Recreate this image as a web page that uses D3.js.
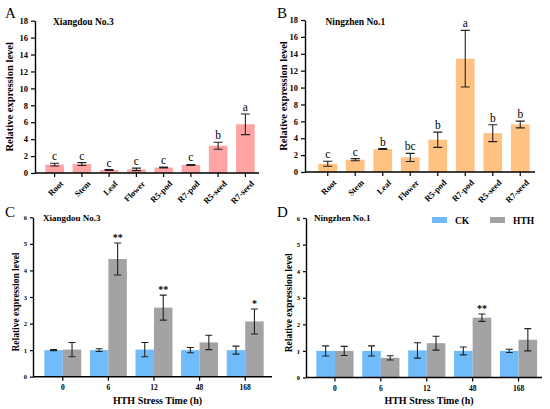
<!DOCTYPE html>
<html>
<head>
<meta charset="utf-8">
<script src="https://cdn.jsdelivr.net/npm/d3@7"></script>
<style>
	body { margin: 0; background: #fff; }
	svg { display: block; font-family: 'Liberation Serif', 'Times New Roman', serif; }
	.domain { stroke-width: 1.4px; }
	.tick line { stroke-width: 1.2px; }
</style>
</head>
<body>
<svg id="chart" width="550" height="409"></svg>
<script>
const SERIF = "'Liberation Serif', 'Times New Roman', serif";

// Tissue expression (panels A, B)
const tissues = ['Root', 'Stem', 'Leaf', 'Flower', 'R5-pod', 'R7-pod', 'R5-seed', 'R7-seed'];
const xdMean = [0.99, 1.06, 0.35, 0.43, 0.64, 0.95, 3.22, 5.76];
const xdErr = [0.17, 0.17, 0.05, 0.15, 0.05, 0.06, 0.42, 1.22];
const xdSig = ['c', 'c', 'c', 'c', 'c', 'c', 'b', 'a'];
const nzMean = [0.98, 1.46, 2.72, 1.73, 3.82, 13.42, 4.6, 5.63];
const nzErr = [0.3, 0.12, 0.06, 0.48, 0.9, 3.35, 1.0, 0.4];
const nzSig = ['c', 'c', 'b', 'bc', 'b', 'a', 'b', 'b'];

// HTH stress time course (panels C, D)
const times = ['0', '6', '12', '48', '168'];
const series = ['CK', 'HTH'];
const xdCk = [1.0, 1.0, 1.02, 1.0, 1.0];
const xdCkErr = [0.02, 0.05, 0.27, 0.1, 0.15];
const xdHth = [1.02, 4.43, 2.6, 1.29, 2.08];
const xdHthErr = [0.27, 0.6, 0.47, 0.27, 0.47];
const xdStars = ['', '**', '**', '', '*'];
const nzCk = [1.0, 1.0, 1.02, 1.0, 1.0];
const nzCkErr = [0.19, 0.19, 0.29, 0.15, 0.06];
const nzHth = [1.0, 0.74, 1.29, 2.25, 1.42];
const nzHthErr = [0.17, 0.08, 0.26, 0.14, 0.42];
const nzStars = ['', '', '', '**', ''];

const seriesColor = d3.scaleOrdinal().domain(series).range(['#70bcfa', '#a3a3a6']);

const svg = d3.select('#chart');

function panelLetter(letter, px, py) {
	svg.append('text').attr('x', px).attr('y', py)
		.attr('font-size', 15).text(letter);
}

function errorBar(g, cx, yTop, yBot, cap) {
	const path = d3.path();
	path.moveTo(cx, yTop); path.lineTo(cx, yBot);
	path.moveTo(cx - cap / 2, yTop); path.lineTo(cx + cap / 2, yTop);
	path.moveTo(cx - cap / 2, yBot); path.lineTo(cx + cap / 2, yBot);
	g.append('path').attr('d', path.toString())
		.attr('stroke', '#222').attr('stroke-width', 1.1).attr('fill', 'none');
}

function drawTissuePanel(opt) {
	const y = d3.scaleLinear().domain([0, 18]).range([opt.y0, opt.y1]);
	const x = d3.scaleBand().domain(tissues).range(opt.xRange)
		.paddingInner(0.32).paddingOuter(0.16);
	const g = svg.append('g').attr('font-family', SERIF);

	// Bars
	g.selectAll('rect.bar').data(tissues).enter().append('rect').classed('bar', true)
		.attr('x', d => x(d)).attr('width', x.bandwidth())
		.attr('y', (d, i) => y(opt.mean[i]))
		.attr('height', (d, i) => y(0) - y(opt.mean[i]))
		.attr('fill', opt.color);

	tissues.forEach((t, i) => {
		const cx = x(t) + x.bandwidth() / 2;
		const top = y(opt.mean[i] + opt.err[i]);
		errorBar(g, cx, top, y(Math.max(0, opt.mean[i] - opt.err[i])), 9);
		g.append('text').attr('x', cx).attr('y', top - 3)
			.attr('text-anchor', 'middle').attr('font-size', 11.5)
			.text(opt.sig[i]);
	});

	// Axes
	const yAxis = g.append('g').attr('transform', `translate(${opt.axisX},0)`)
		.call(d3.axisLeft(y).tickValues(d3.range(0, 19, 2)).tickSize(4).tickSizeOuter(0))
		.attr('font-family', SERIF);
	yAxis.selectAll('text').attr('font-size', 8.5).attr('font-weight', 'bold');

	const xAxis = g.append('g').attr('transform', `translate(0,${opt.y0})`)
		.call(d3.axisBottom(x).tickSize(4).tickSizeOuter(0))
		.attr('font-family', SERIF);
	xAxis.select('.domain').attr('d', `M${opt.axisX},0H${opt.axisEnd}`);
	xAxis.selectAll('text')
		.attr('font-size', 8.5).attr('font-weight', 'bold')
		.attr('text-anchor', 'end')
		.attr('transform', 'translate(5,7) rotate(-45)')
		.attr('y', 3).attr('dy', '0.35em').attr('x', 0);

	g.append('text')
		.attr('transform', `translate(${opt.labelX},${(opt.y0 + opt.y1) / 2}) rotate(-90)`)
		.attr('text-anchor', 'middle').attr('font-size', 10.5).attr('font-weight', 'bold')
		.text('Relative expression level');

	g.append('text').attr('x', opt.titleX).attr('y', 25)
		.attr('font-size', 9.5).attr('font-weight', 'bold').text(opt.title);
}

function drawTimePanel(opt) {
	const y = d3.scaleLinear().domain([0, 6]).range([opt.y0, opt.y1]);
	const x = d3.scaleBand().domain(times).range(opt.xRange)
		.paddingInner(0.19).paddingOuter(0.095);
	const xs = d3.scaleBand().domain(series).range([0, x.bandwidth()]);
	const g = svg.append('g').attr('font-family', SERIF);

	const rows = times.map((t, i) => [
		{ t, s: 'CK', v: opt.ck[i], e: opt.ckErr[i] },
		{ t, s: 'HTH', v: opt.hth[i], e: opt.hthErr[i] },
	]);

	rows.forEach((pair, i) => {
		pair.forEach((d) => {
			const bx = x(d.t) + xs(d.s);
			g.append('rect').attr('x', bx).attr('width', xs.bandwidth())
				.attr('y', y(d.v)).attr('height', y(0) - y(d.v))
				.attr('fill', seriesColor(d.s));
		});
		pair.forEach((d) => {
			const cx = x(d.t) + xs(d.s) + xs.bandwidth() / 2;
			errorBar(g, cx, y(d.v + d.e), y(d.v - d.e), 7);
		});
		if (opt.stars[i]) {
			const d = pair[1];
			g.append('text').attr('x', x(d.t) + xs('HTH') + xs.bandwidth() / 2)
				.attr('y', y(d.v + d.e) - 2)
				.attr('text-anchor', 'middle').attr('font-size', 10).attr('font-weight', 'bold')
				.text(opt.stars[i]);
		}
	});

	const yAxis = g.append('g').attr('transform', `translate(${opt.axisX},0)`)
		.call(d3.axisLeft(y).ticks(6).tickSize(3).tickSizeOuter(0))
		.attr('font-family', SERIF);
	yAxis.selectAll('text').attr('font-size', 6.5).attr('font-weight', 'bold');

	const xAxis = g.append('g').attr('transform', `translate(0,${opt.y0})`)
		.call(d3.axisBottom(x).tickSize(4).tickSizeOuter(0))
		.attr('font-family', SERIF);
	xAxis.select('.domain').attr('d', `M${opt.axisX},0H${opt.axisEnd}`);
	xAxis.selectAll('text').attr('font-size', 7.5).attr('font-weight', 'bold').attr('y', 8);

	g.append('text')
		.attr('transform', `translate(${opt.labelX},${(opt.y0 + opt.y1) / 2 + 5}) rotate(-90)`)
		.attr('text-anchor', 'middle').attr('font-size', 9.5).attr('font-weight', 'bold')
		.text('Relative expression level');

	g.append('text').attr('x', (opt.axisX + opt.axisEnd) / 2 + 5).attr('y', 404)
		.attr('text-anchor', 'middle').attr('font-size', 10).attr('font-weight', 'bold')
		.text('HTH Stress Time (h)');

	g.append('text').attr('x', opt.titleX).attr('y', 221)
		.attr('font-size', 9).attr('font-weight', 'bold').text(opt.title);

	if (opt.legend) {
		const lg = g.append('g').selectAll('g').data(series).enter().append('g')
			.attr('transform', (d, i) => `translate(${432 + i * 58},220)`);
		lg.append('rect').attr('x', 0).attr('y', -3).attr('width', 15).attr('height', 6)
			.attr('fill', d => seriesColor(d));
		lg.append('text').attr('x', 23).attr('y', 3.5)
			.attr('font-size', 9.5).attr('font-weight', 'bold').text(d => d);
	}
}

drawTissuePanel({
	mean: xdMean, err: xdErr, sig: xdSig, color: '#ffa3a3',
	y0: 173, y1: 20.7, xRange: [41, 259], axisX: 35, axisEnd: 259,
	labelX: 13, titleX: 53, title: 'Xiangdou No.3',
});
drawTissuePanel({
	mean: nzMean, err: nzErr, sig: nzSig, color: '#ffc283',
	y0: 172, y1: 20, xRange: [314, 534], axisX: 305, axisEnd: 535,
	labelX: 287, titleX: 325.5, title: 'Ningzhen No.1',
});
drawTimePanel({
	ck: xdCk, ckErr: xdCkErr, hth: xdHth, hthErr: xdHthErr, stars: xdStars,
	y0: 376.7, y1: 217.3, xRange: [40, 268], axisX: 33, axisEnd: 272,
	labelX: 19, titleX: 43, title: 'Xiangdou No.3', legend: false,
});
drawTimePanel({
	ck: nzCk, ckErr: nzCkErr, hth: nzHth, hthErr: nzHthErr, stars: nzStars,
	y0: 377.5, y1: 218, xRange: [312, 541.5], axisX: 306, axisEnd: 542,
	labelX: 292, titleX: 314, title: 'Ningzhen No.1', legend: true,
});

panelLetter('A', 5, 18);
panelLetter('B', 277, 18);
panelLetter('C', 5, 217);
panelLetter('D', 277, 217);
</script>
</body>
</html>
